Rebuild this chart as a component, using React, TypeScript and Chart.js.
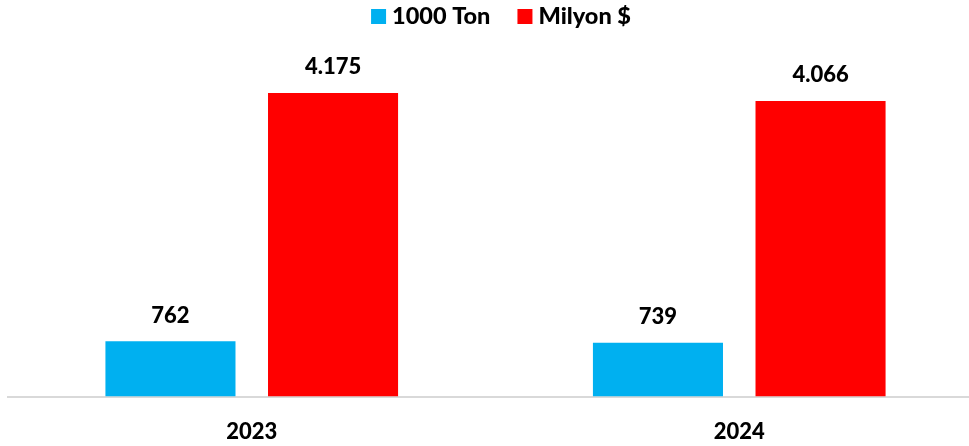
import React, { useEffect, useRef } from "react";
import { Chart, registerables } from "chart.js";

Chart.register(...registerables);

const categories = ["2023", "2024"];
const tonValues = [762, 739];
const usdValues = [4175, 4066];
const seriesNames = ["1000 Ton", "Milyon $"];
const seriesColors = ["#00B0F0", "#FF0000"];

const FONT = "Lato, 'Noto Sans', sans-serif";
const WEIGHT = "900";

function fmt(v: number): string {
  return String(v).replace(/\B(?=(\d{3})+(?!\d))/g, ".");
}

const valueLabelPlugin = {
  id: "valueLabels",
  afterDatasetsDraw(chart: any) {
    const ctx = chart.ctx;
    ctx.save();
    ctx.font = `${WEIGHT} 22px ${FONT}`;
    ctx.fillStyle = "#000000";
    ctx.textAlign = "center";
    ctx.textBaseline = "alphabetic";
    chart.data.datasets.forEach((ds: any, i: number) => {
      const meta = chart.getDatasetMeta(i);
      meta.data.forEach((el: any, j: number) => {
        ctx.fillText(fmt(ds.data[j]), el.x, el.y - 18.5);
      });
    });
    ctx.restore();
  },
};

const topLegendPlugin = {
  id: "topLegend",
  afterDraw(chart: any) {
    const ctx = chart.ctx;
    ctx.save();
    ctx.font = `${WEIGHT} 23.5px ${FONT}`;
    const box = 15;
    const gap = 6;
    const itemGap = 27;
    const items = chart.data.datasets.map((ds: any) => ({
      label: ds.label,
      color: ds.backgroundColor,
      w: ctx.measureText(ds.label).width,
    }));
    const total =
      items.reduce((s: number, it: any) => s + box + gap + it.w, 0) +
      itemGap * (items.length - 1);
    let x = 501 - total / 2;
    items.forEach((it: any) => {
      ctx.fillStyle = it.color;
      ctx.fillRect(x, 9, box, box);
      x += box + gap;
      ctx.fillStyle = "#000000";
      ctx.textAlign = "left";
      ctx.textBaseline = "alphabetic";
      ctx.fillText(it.label, x, 24);
      x += it.w + itemGap;
    });
    ctx.restore();
  },
};

export default function App() {
  const canvasRef = useRef<HTMLCanvasElement | null>(null);

  useEffect(() => {
    if (!canvasRef.current) return;
    const chart = new Chart(canvasRef.current, {
      type: "bar",
      data: {
        labels: categories,
        datasets: [
          {
            label: seriesNames[0],
            data: tonValues,
            backgroundColor: seriesColors[0],
            categoryPercentage: 0.667,
            barPercentage: 0.8,
          },
          {
            label: seriesNames[1],
            data: usdValues,
            backgroundColor: seriesColors[1],
            categoryPercentage: 0.667,
            barPercentage: 0.8,
          },
        ],
      },
      options: {
        responsive: true,
        maintainAspectRatio: false,
        animation: false,
        layout: { padding: { left: 8, right: 7, top: 33, bottom: 0 } },
        plugins: {
          legend: { display: false },
          tooltip: { enabled: false },
        },
        scales: {
          x: {
            grid: { display: false, drawTicks: false },
            border: { display: true, color: "#D9D9D9", width: 2 },
            ticks: {
              color: "#000000",
              font: { family: FONT, size: 22, weight: WEIGHT },
              padding: 22,
            },
          },
          y: {
            display: false,
            min: 0,
            max: 5000,
          },
        },
      },
      plugins: [valueLabelPlugin, topLegendPlugin],
    } as any);
    return () => chart.destroy();
  }, []);

  return (
    <div
      style={{
        position: "fixed",
        left: 0,
        top: 0,
        width: 969,
        height: 446,
        overflow: "hidden",
        background: "#ffffff",
      }}
    >
      <div style={{ position: "relative", width: 990, height: 467 }}>
        <canvas ref={canvasRef} />
      </div>
    </div>
  );
}
